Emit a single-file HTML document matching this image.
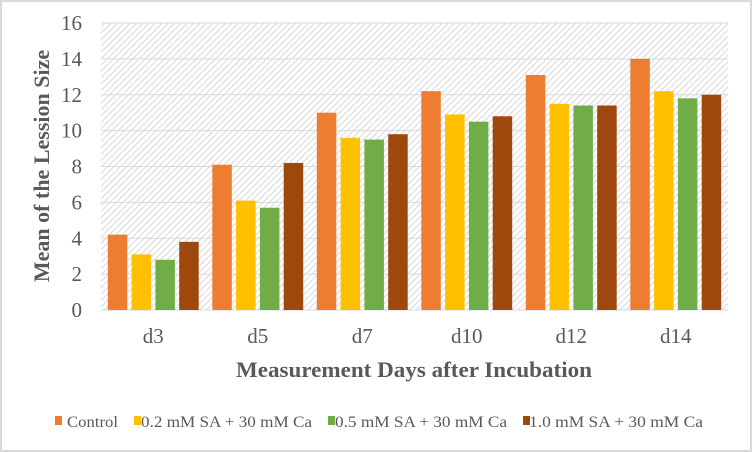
<!DOCTYPE html>
<html><head><meta charset="utf-8"><style>
html,body{margin:0;padding:0;background:#fff}
svg{display:block;font-family:"Liberation Serif",serif}
</style></head><body>
<svg width="752" height="452" viewBox="0 0 752 452">
<defs>
<pattern id="hatch" patternUnits="userSpaceOnUse" width="4.5" height="4.5" patternTransform="rotate(45)">
<rect width="4.5" height="4.5" fill="#fff"/>
<line x1="0" y1="0" x2="0" y2="4.5" stroke="#cfcfcf" stroke-width="1.6"/>
</pattern>
</defs>
<rect x="1" y="1" width="750" height="450" fill="#fff" stroke="#d9d9d9" stroke-width="2"/>
<rect x="101" y="23" width="627" height="287" fill="url(#hatch)"/>
<g id="grid"></g>
<g id="bars"></g>
<g id="yticks" fill="#595959" font-size="21" text-anchor="end"></g>
<g id="xticks" fill="#595959" font-size="21" text-anchor="middle"></g>
<text x="236" y="377" textLength="356" lengthAdjust="spacingAndGlyphs" font-size="22" font-weight="bold" fill="#595959">Measurement Days after Incubation</text>
<text transform="translate(49,166) rotate(-90)" text-anchor="middle" font-size="22" font-weight="bold" fill="#595959">Mean of the Lession Size</text>
<g id="legend" font-size="16" fill="#595959"></g>
</svg>
<script>
const categories=["d3","d5","d7","d10","d12","d14"];
const seriesNames=["Control","0.2 mM SA + 30 mM Ca","0.5 mM SA + 30 mM Ca","1.0 mM SA + 30 mM Ca"];
const control=[4.2,8.1,11.0,12.2,13.1,14.0];
const sa02=[3.1,6.1,9.6,10.9,11.5,12.2];
const sa05=[2.8,5.7,9.5,10.5,11.4,11.8];
const sa10=[3.8,8.2,9.8,10.8,11.4,12.0];
const yTicks=[0,2,4,6,8,10,12,14,16];
const colors=["#ED7D31","#FFC000","#70AD47","#9E480E"];
const series=[control,sa02,sa05,sa10];
const NS="http://www.w3.org/2000/svg";
const x0=101,x1=728,y0=310,y1=23,ymax=16;
const band=(x1-x0)/categories.length;
const yS=v=>y0-(v/ymax)*(y0-y1);
function mk(t,a){const e=document.createElementNS(NS,t);for(const k in a)e.setAttribute(k,a[k]);return e;}
const grid=document.getElementById('grid'),yt=document.getElementById('yticks');
yTicks.forEach(v=>{
 const l=mk('line',{x1:x0,x2:x1,y1:yS(v),y2:yS(v),stroke:'#d9d9d9','stroke-width':1});
 
 
 grid.appendChild(l);
 const t=mk('text',{x:82,y:yS(v)+7});t.textContent=v;
 
 
 yt.appendChild(t);
});
const bars=document.getElementById('bars'),xt=document.getElementById('xticks');
const bw=19.5,step=23.8;
categories.forEach((c,i)=>{
 const cx=x0+band*(i+0.5);
 series.forEach((s,j)=>{
  const bx=cx-2*step+j*step+(step-bw)/2;
  const r=mk('rect',{x:bx,y:yS(s[i]),width:bw,height:y0-yS(s[i]),fill:colors[j]});
  
  
  bars.appendChild(r);
 });
 const t=mk('text',{x:cx,y:343});t.textContent=c;
 
 
 xt.appendChild(t);
});
const lg=document.getElementById('legend');
const sq=[55,134,328,523],tx=[67,141,335,529],tl=[51,171,172,174];
seriesNames.forEach((n,j)=>{
 const g=mk('g',{});
 
 
 g.appendChild(mk('rect',{x:sq[j],y:416,width:7,height:9,fill:colors[j]}));
 const t=mk('text',{x:tx[j],y:427,textLength:tl[j],lengthAdjust:'spacingAndGlyphs'});t.textContent=n;g.appendChild(t);
 lg.appendChild(g);
});
</script>
</body></html>
